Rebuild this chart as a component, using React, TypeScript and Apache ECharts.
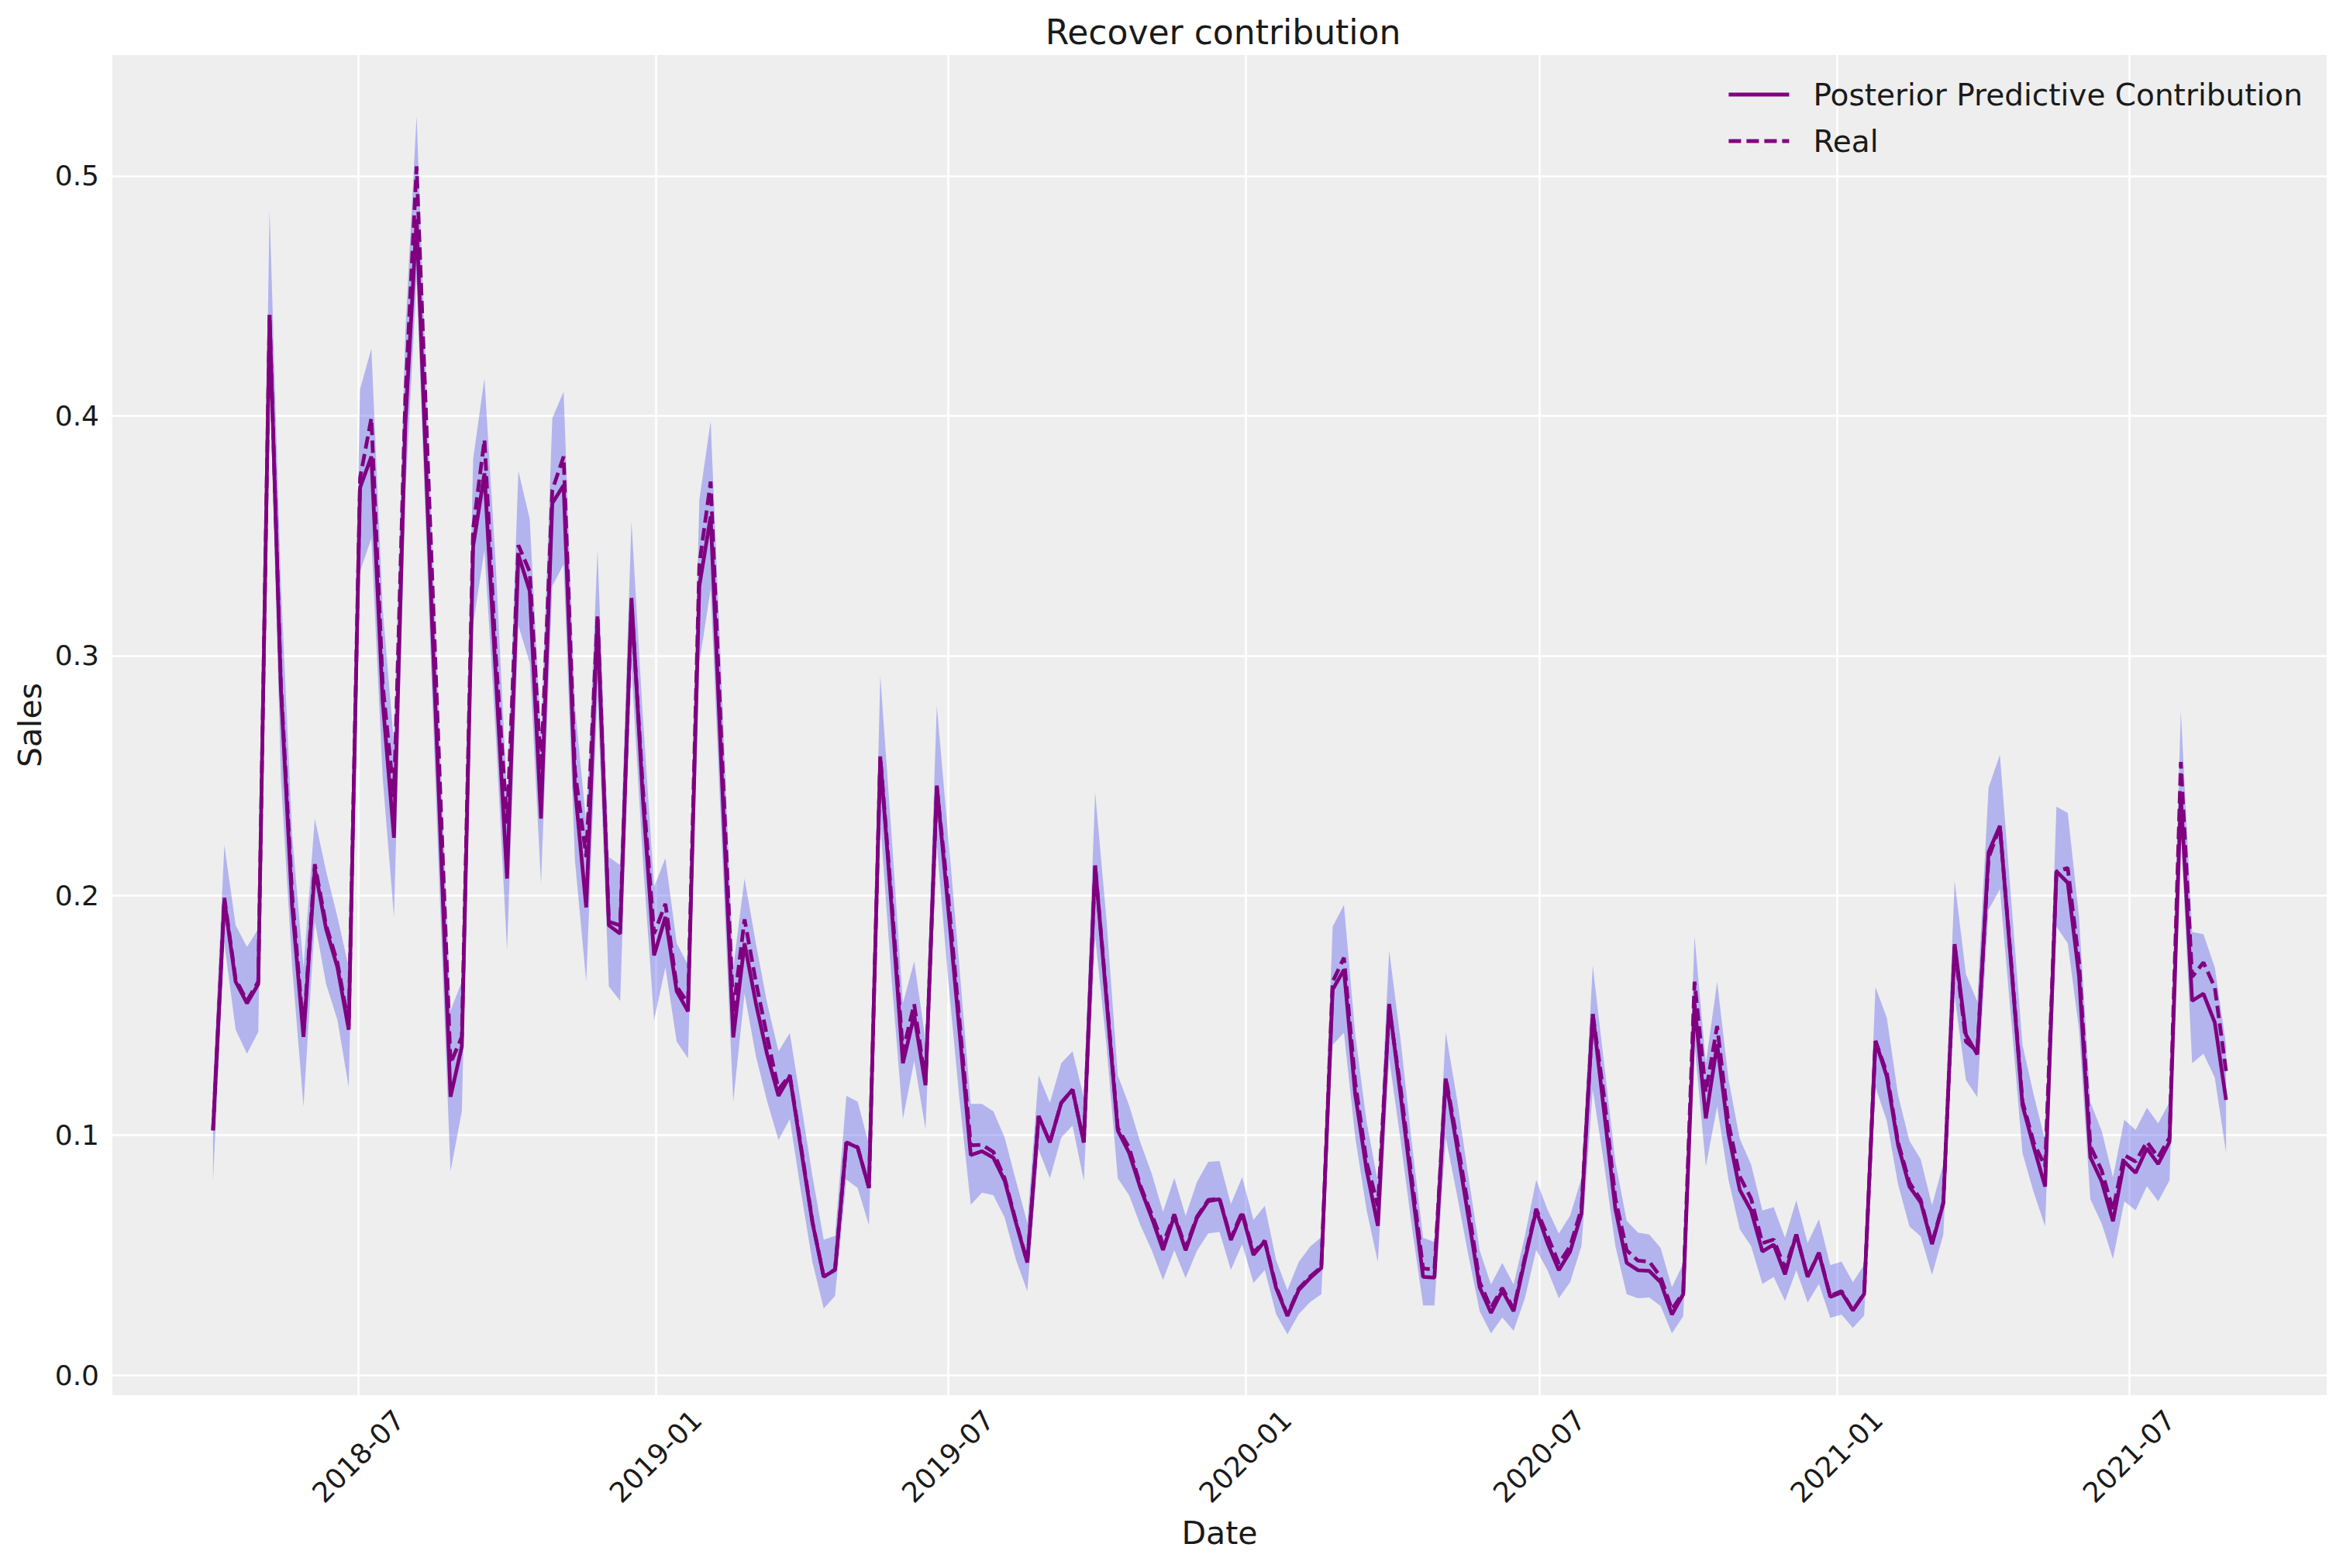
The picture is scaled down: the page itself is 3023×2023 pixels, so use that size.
import React, { useEffect, useRef } from "react";
import * as echarts from "echarts";

// Weekly dates start (Monday) — one value per week
const START_DATE = "2018-04-02";

// Posterior predictive mean contribution
const predMean = [
  0.102, 0.198, 0.164, 0.155, 0.163, 0.442, 0.286, 0.195, 0.141, 0.211,
  0.186, 0.170, 0.144, 0.370, 0.383, 0.281, 0.224, 0.396, 0.482, 0.358,
  0.238, 0.116, 0.137, 0.3455, 0.376, 0.292, 0.207, 0.342, 0.327, 0.232,
  0.3635, 0.371, 0.245, 0.195, 0.315, 0.1875, 0.184, 0.324, 0.241, 0.175,
  0.191, 0.160, 0.1516, 0.329, 0.358, 0.2486, 0.1408, 0.180, 0.155, 0.1336,
  0.1164, 0.1246, 0.094, 0.0636, 0.041, 0.0438, 0.097, 0.0948, 0.078, 0.2575,
  0.195, 0.130, 0.150, 0.1208, 0.2458, 0.195, 0.1435, 0.0917, 0.0933, 0.0906,
  0.081, 0.0635, 0.0469, 0.108, 0.097, 0.1135, 0.119, 0.097, 0.2125, 0.1567,
  0.102, 0.0927, 0.078, 0.0656, 0.0521, 0.0663, 0.052, 0.0655, 0.0725, 0.0733,
  0.0563, 0.0672, 0.0501, 0.0558, 0.0363, 0.0246, 0.0354, 0.0404, 0.0446, 0.1607,
  0.169, 0.117, 0.0855, 0.0622, 0.1547, 0.117, 0.0787, 0.0409, 0.0406, 0.1234,
  0.095, 0.066, 0.0366, 0.0259, 0.0352, 0.0266, 0.048, 0.0686, 0.055, 0.0437,
  0.0515, 0.0672, 0.1505, 0.110, 0.0693, 0.0468, 0.0437, 0.0434, 0.0387, 0.0252,
  0.0337, 0.155, 0.107, 0.138, 0.1006, 0.0772, 0.0686, 0.0515, 0.0544, 0.042,
  0.0586, 0.0409, 0.0508, 0.0326, 0.0344, 0.0269, 0.0338, 0.1393, 0.1245, 0.0959,
  0.0786, 0.072, 0.0546, 0.0716, 0.1797, 0.1419, 0.1337, 0.218, 0.229, 0.171,
  0.1124, 0.095, 0.0786, 0.210, 0.2053, 0.1663, 0.0908, 0.0807, 0.0641, 0.089,
  0.0843, 0.0945, 0.088, 0.0972, 0.2418, 0.156, 0.159, 0.147, 0.1147,
];

// Real (true) contribution
const realValues = [
  0.102, 0.199, 0.165, 0.156, 0.164, 0.442, 0.288, 0.200, 0.143, 0.213,
  0.1875, 0.172, 0.146, 0.374, 0.399, 0.288, 0.241, 0.407, 0.504, 0.380,
  0.255, 0.130, 0.141, 0.353, 0.390, 0.300, 0.230, 0.346, 0.335, 0.252,
  0.369, 0.383, 0.252, 0.216, 0.317, 0.189, 0.1875, 0.322, 0.245, 0.184,
  0.1965, 0.162, 0.155, 0.338, 0.3725, 0.259, 0.1516, 0.190, 0.164, 0.141,
  0.119, 0.125, 0.095, 0.064, 0.041, 0.044, 0.097, 0.095, 0.078, 0.258,
  0.198, 0.135, 0.1546, 0.122, 0.245, 0.200, 0.148, 0.0958, 0.096, 0.093,
  0.082, 0.064, 0.047, 0.108, 0.097, 0.1135, 0.119, 0.097, 0.2125, 0.158,
  0.103, 0.0948, 0.079, 0.067, 0.0546, 0.067, 0.053, 0.066, 0.073, 0.0735,
  0.057, 0.068, 0.051, 0.056, 0.037, 0.025, 0.036, 0.041, 0.045, 0.164,
  0.174, 0.122, 0.0889, 0.0705, 0.153, 0.120, 0.082, 0.0444, 0.044, 0.124,
  0.098, 0.070, 0.0387, 0.028, 0.0363, 0.0275, 0.049, 0.0693, 0.058, 0.0465,
  0.0537, 0.0693, 0.1507, 0.116, 0.0736, 0.052, 0.0477, 0.0473, 0.0409, 0.0273,
  0.0344, 0.164, 0.118, 0.1455, 0.105, 0.0828, 0.0736, 0.055, 0.0565, 0.0444,
  0.0586, 0.041, 0.051, 0.033, 0.035, 0.027, 0.034, 0.1393, 0.126, 0.097,
  0.0803, 0.073, 0.055, 0.072, 0.179, 0.139, 0.135, 0.2156, 0.2286, 0.172,
  0.114, 0.0968, 0.087, 0.210, 0.2114, 0.172, 0.0954, 0.0853, 0.0687, 0.0917,
  0.089, 0.0972, 0.0908, 0.099, 0.2556, 0.166, 0.172, 0.1617, 0.1267,
];

// HDI lower bound
const hdiLow = [
  0.081, 0.180, 0.144, 0.134, 0.143, 0.420, 0.249, 0.170, 0.112, 0.189,
  0.163, 0.148, 0.120, 0.335, 0.349, 0.249, 0.191, 0.367, 0.457, 0.330,
  0.205, 0.085, 0.110, 0.313, 0.344, 0.267, 0.177, 0.3125, 0.297, 0.205,
  0.329, 0.338, 0.2145, 0.164, 0.284, 0.162, 0.156, 0.295, 0.215, 0.148,
  0.170, 0.139, 0.132, 0.297, 0.3276, 0.220, 0.114, 0.159, 0.133, 0.114,
  0.098, 0.1067, 0.076, 0.047, 0.0277, 0.033, 0.0815, 0.078, 0.0625, 0.2306,
  0.165, 0.1067, 0.131, 0.1025, 0.221, 0.165, 0.115, 0.071, 0.076, 0.075,
  0.0656, 0.048, 0.035, 0.094, 0.082, 0.099, 0.104, 0.081, 0.183, 0.1375,
  0.082, 0.075, 0.0625, 0.052, 0.0396, 0.052, 0.0404, 0.0518, 0.0591, 0.0596,
  0.0438, 0.0546, 0.0384, 0.0438, 0.0254, 0.017, 0.0254, 0.0304, 0.0337, 0.1377,
  0.1427, 0.099, 0.0688, 0.047, 0.132, 0.098, 0.062, 0.029, 0.029, 0.099,
  0.075, 0.050, 0.0266, 0.0174, 0.024, 0.0184, 0.032, 0.0522, 0.0437, 0.032,
  0.0387, 0.0537, 0.119, 0.088, 0.0537, 0.0337, 0.032, 0.0323, 0.0288, 0.0174,
  0.0245, 0.138, 0.087, 0.112, 0.0814, 0.0608, 0.0537, 0.038, 0.0409, 0.0309,
  0.0437, 0.0302, 0.038, 0.0238, 0.0252, 0.0196, 0.0248, 0.120, 0.106, 0.0794,
  0.062, 0.0578, 0.0418, 0.0586, 0.158, 0.123, 0.1159, 0.194, 0.2026, 0.148,
  0.0925, 0.076, 0.062, 0.187, 0.180, 0.144, 0.0733, 0.0632, 0.0484, 0.0724,
  0.0687, 0.0788, 0.0724, 0.0812, 0.227, 0.130, 0.134, 0.124, 0.0926,
];

// HDI upper bound
const hdiHigh = [
  0.120, 0.221, 0.1875, 0.1785, 0.186, 0.486, 0.330, 0.225, 0.170, 0.232,
  0.210, 0.191, 0.170, 0.411, 0.428, 0.320, 0.263, 0.435, 0.525, 0.395,
  0.270, 0.152, 0.164, 0.382, 0.4156, 0.338, 0.241, 0.377, 0.357, 0.266,
  0.399, 0.410, 0.279, 0.230, 0.344, 0.216, 0.2126, 0.356, 0.275, 0.2036,
  0.2155, 0.180, 0.171, 0.365, 0.3976, 0.285, 0.170, 0.207, 0.180, 0.155,
  0.135, 0.1426, 0.113, 0.083, 0.0564, 0.058, 0.1164, 0.114, 0.096, 0.2917,
  0.225, 0.155, 0.1725, 0.1396, 0.279, 0.225, 0.170, 0.113, 0.113, 0.110,
  0.099, 0.081, 0.0635, 0.125, 0.1135, 0.130, 0.135, 0.1156, 0.243, 0.190,
  0.125, 0.1125, 0.097, 0.084, 0.068, 0.0822, 0.0663, 0.0805, 0.0889, 0.0892,
  0.0713, 0.0825, 0.0647, 0.0705, 0.048, 0.0354, 0.0471, 0.0535, 0.0575, 0.187,
  0.196, 0.142, 0.1056, 0.0805, 0.177, 0.140, 0.097, 0.0572, 0.0555, 0.143,
  0.115, 0.083, 0.052, 0.0377, 0.0468, 0.0377, 0.058, 0.0814, 0.069, 0.059,
  0.0665, 0.082, 0.1707, 0.130, 0.089, 0.0643, 0.0594, 0.0586, 0.053, 0.0366,
  0.0465, 0.183, 0.130, 0.164, 0.1234, 0.0985, 0.0878, 0.0686, 0.070, 0.0572,
  0.0729, 0.055, 0.065, 0.0458, 0.0473, 0.0387, 0.046, 0.1618, 0.149, 0.1167,
  0.0977, 0.0899, 0.0708, 0.0881, 0.206, 0.167, 0.1558, 0.245, 0.2586, 0.198,
  0.1376, 0.1167, 0.0977, 0.237, 0.2344, 0.191, 0.1138, 0.1018, 0.0825, 0.1064,
  0.1022, 0.1114, 0.105, 0.1138, 0.277, 0.1847, 0.1838, 0.170, 0.1378,
];

// Tick labels
const xTickDates = [
  "2018-07-01", "2019-01-01", "2019-07-01", "2020-01-01",
  "2020-07-01", "2021-01-01", "2021-07-01",
];
const yTickValues = [0.0, 0.1, 0.2, 0.3, 0.4, 0.5];

const TITLE = "Recover contribution";
const PRED_NAME = "Posterior Predictive Contribution";
const REAL_NAME = "Real";

const FONT = "DejaVu Sans";
const WEEK_MS = 7 * 24 * 3600 * 1000;
const LINE_W = 4.8;
const TICK_FS = 36;

function toUTC(s: string): number {
  const [y, m, d] = s.split("-").map(Number);
  return Date.UTC(y, m - 1, d);
}

export default function App() {
  const ref = useRef<HTMLDivElement>(null);

  useEffect(() => {
    document.body.style.margin = "0";
    if (!ref.current) return;
    const chart = echarts.init(ref.current, undefined, { renderer: "svg" });

    const start = toUTC(START_DATE);
    const dates = predMean.map((_, i) => start + i * WEEK_MS);
    const xSpan = dates[dates.length - 1] - dates[0];
    const xMin = dates[0] - 0.05 * xSpan;
    const xMax = dates[dates.length - 1] + 0.05 * xSpan;
    const lo = Math.min(...hdiLow);
    const hi = Math.max(...hdiHigh);
    const yMin = lo - 0.05 * (hi - lo);
    const yMax = hi + 0.05 * (hi - lo);
    const xTicks = xTickDates.map(toUTC);

    const fmtDate = (v: number) => {
      const d = new Date(v);
      return `${d.getUTCFullYear()}-${String(d.getUTCMonth() + 1).padStart(2, "0")}`;
    };

    const bandRender = (params: any, api: any) => {
      if (params.dataIndex !== 0) return null;
      const upper = dates.map((t, i) => api.coord([t, hdiHigh[i]]));
      const lower = dates.map((t, i) => api.coord([t, hdiLow[i]])).reverse();
      return {
        type: "polygon",
        shape: { points: upper.concat(lower) },
        style: { fill: "#2a2eec", opacity: 0.3 },
        silent: true,
      };
    };

    const option: any = {
      animation: false,
      backgroundColor: "#ffffff",
      title: {
        text: TITLE,
        left: 1573,
        top: 14,
        textAlign: "center",
        textStyle: { fontFamily: FONT, fontSize: 44, fontWeight: "normal", color: "#1a1a1a" },
      },
      legend: {
        data: [PRED_NAME, REAL_NAME],
        orient: "vertical",
        left: 2223,
        top: 95,
        itemWidth: 78,
        itemHeight: 20,
        itemGap: 16,
        lineStyle: { width: LINE_W },
        textStyle: {
          fontFamily: FONT,
          fontSize: 39,
          lineHeight: 44,
          color: "#1a1a1a",
          padding: [0, 0, 0, 26],
        },
      },
      grid: {
        left: 145,
        top: 71,
        width: 2857,
        height: 1729,
        show: true,
        backgroundColor: "#eeeeee",
        borderWidth: 0,
      },
      xAxis: {
        type: "value",
        min: xMin,
        max: xMax,
        name: "Date",
        nameLocation: "middle",
        nameGap: 157,
        nameTextStyle: { fontFamily: FONT, fontSize: 41, color: "#1a1a1a" },
        axisLine: { show: false },
        axisTick: { show: false, customValues: xTicks },
        axisLabel: {
          customValues: xTicks,
          rotate: 45,
          align: "center",
          verticalAlign: "middle",
          margin: 79,
          fontFamily: FONT,
          fontSize: TICK_FS,
          color: "#1a1a1a",
          formatter: (v: number) => fmtDate(v),
        },
        splitLine: { show: true, lineStyle: { color: "#ffffff", width: 2.5 } },
      },
      yAxis: {
        type: "value",
        min: yMin,
        max: yMax,
        name: "Sales",
        nameLocation: "middle",
        nameGap: 86,
        nameTextStyle: { fontFamily: FONT, fontSize: 41, color: "#1a1a1a" },
        axisLine: { show: false },
        axisTick: { show: false, customValues: yTickValues },
        axisLabel: {
          customValues: yTickValues,
          margin: 17,
          fontFamily: FONT,
          fontSize: TICK_FS,
          color: "#1a1a1a",
          formatter: (v: number) => v.toFixed(1),
        },
        splitLine: { show: true, lineStyle: { color: "#ffffff", width: 2.5 } },
      },
      series: [
        {
          name: "HDI",
          type: "custom",
          renderItem: bandRender,
          data: dates.map((t, i) => [t, hdiLow[i], hdiHigh[i]]),
          encode: { x: 0, y: [1, 2] },
          clip: true,
          silent: true,
          z: 2,
        },
        {
          name: PRED_NAME,
          type: "line",
          data: dates.map((t, i) => [t, predMean[i]]),
          symbol: "none",
          lineStyle: { color: "#800080", width: LINE_W, type: "solid" },
          itemStyle: { color: "#800080", opacity: 0 },
          z: 3,
        },
        {
          name: REAL_NAME,
          type: "line",
          data: dates.map((t, i) => [t, realValues[i]]),
          symbol: "none",
          lineStyle: { color: "#800080", width: LINE_W, type: [16, 7] },
          itemStyle: { color: "#800080", opacity: 0 },
          z: 4,
        },
      ],
    };

    chart.setOption(option);
    return () => chart.dispose();
  }, []);

  return <div ref={ref} style={{ width: 3023, height: 2023 }} />;
}
